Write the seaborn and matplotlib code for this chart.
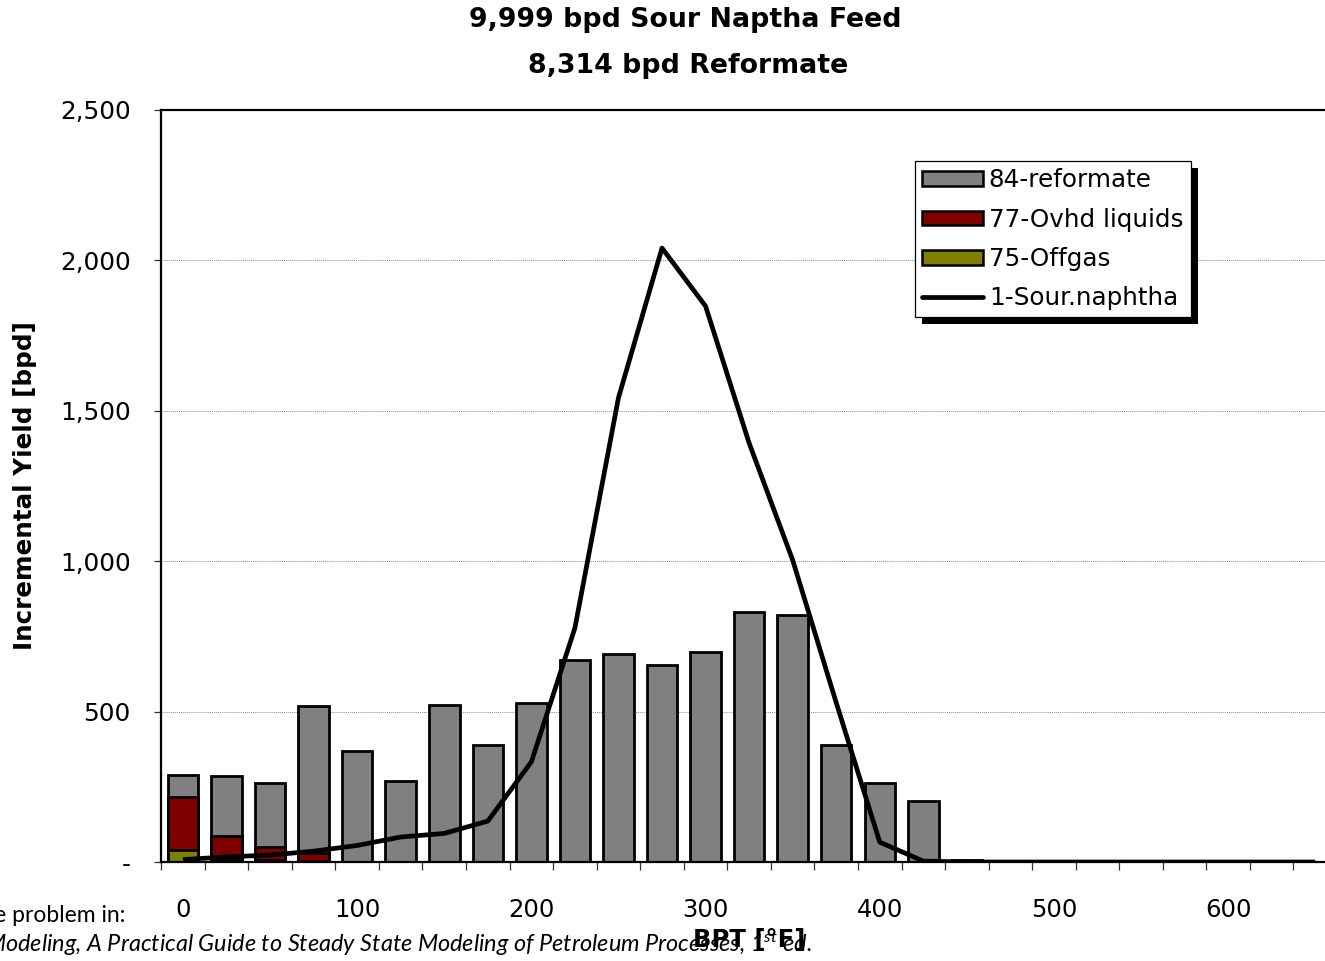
import matplotlib
matplotlib.use("Agg")
import matplotlib.pyplot as plt
import seaborn as sns
import pandas as pd
import numpy as np
from matplotlib.patches import Patch, Rectangle
from matplotlib.lines import Line2D
from matplotlib.ticker import FixedLocator, FuncFormatter
from matplotlib.transforms import IdentityTransform

# ---------------- data ----------------
temps = [0, 25, 50, 75, 100, 125, 150, 175, 200, 225, 250, 275, 300, 325,
         350, 375, 400, 425, 450, 475, 500, 525, 550, 575, 600, 625, 650]
offgas = [40, 8, 5, 2, 0, 0, 0, 0, 0, 0, 0, 0, 0, 0,
          0, 0, 0, 0, 0, 0, 0, 0, 0, 0, 0, 0, 0]
ovhd_liquids = [177, 78, 46, 27, 0, 0, 0, 0, 0, 0, 0, 0, 0, 0,
                0, 0, 0, 0, 0, 0, 0, 0, 0, 0, 0, 0, 0]
reformate = [72, 201, 210, 490, 369, 270, 522, 389, 527, 670, 692, 654, 698, 832,
             820, 389, 264, 202, 8, 0, 0, 0, 0, 0, 0, 0, 0]
sour_naphtha = [8, 17, 23, 36, 55, 83, 95, 136, 333, 778, 1543, 2041, 1848, 1393,
                1004, 530, 66, 3, 0, 0, 0, 0, 0, 0, 0, 0, 0]
series_labels = ["84-reformate", "77-Ovhd liquids", "75-Offgas", "1-Sour.naphtha"]
title_lines = ["9,999 bpd Sour Naptha Feed", "8,314 bpd Reformate"]
y_ticks = [0, 500, 1000, 1500, 2000, 2500]
x_ticks = [0, 100, 200, 300, 400, 500, 600]

df = pd.DataFrame({"T": temps, "offgas": offgas, "ovhd": ovhd_liquids,
                   "ref": reformate, "naph": sour_naphtha})
df["lvl_ovhd"] = df["offgas"] + df["ovhd"]
df["lvl_total"] = df["lvl_ovhd"] + df["ref"]

# ---------------- style ----------------
sns.set_style("white")
plt.rcParams["font.family"] = ["DejaVu Sans"]
for k in ["text.color", "axes.labelcolor", "xtick.color", "ytick.color"]:
    plt.rcParams[k] = "black"

W, H, DPI = 1325, 961, 100
fig = plt.figure(figsize=(W / DPI, H / DPI), dpi=DPI)
ax_left, ax_bottom = 161.2 / W, 1 - 862 / H
ax_w, ax_h = (1337 - 161.2) / W, (862 - 110) / H
ax = fig.add_axes([ax_left, ax_bottom, ax_w, ax_h])

c_gray, c_red, c_olive = "#808080", "#800000", "#808000"
edge = dict(edgecolor="black", linewidth=2.0)

sns.barplot(data=df, x="T", y="lvl_total", native_scale=True, width=0.7,
            color=c_gray, saturation=1, errorbar=None, ax=ax, **edge)
sns.barplot(data=df, x="T", y="lvl_ovhd", native_scale=True, width=0.7,
            color=c_red, saturation=1, errorbar=None, ax=ax, **edge)
sns.barplot(data=df, x="T", y="offgas", native_scale=True, width=0.7,
            color=c_olive, saturation=1, errorbar=None, ax=ax, **edge)
sns.lineplot(data=df, x="T", y="naph", color="black", linewidth=3.4, ax=ax,
             solid_capstyle="butt")

ax.set_xlim(-12.5, 662.5)
ax.set_ylim(0, 2500)
ax.set_axisbelow(True)

# y axis
ax.yaxis.set_major_locator(FixedLocator(y_ticks))
ax.yaxis.set_major_formatter(FuncFormatter(lambda v, p: "-" if v == 0 else f"{int(v):,}"))
ax.tick_params(axis="y", which="major", direction="out", length=5, width=0.9,
               color="#333333", labelcolor="black", pad=17, labelsize=17.8, left=True)
ax.yaxis.grid(True, linestyle=(0, (1, 1)), color="#8c8c8c", linewidth=0.7)
ax.xaxis.grid(False)

# x axis
ax.xaxis.set_major_locator(FixedLocator(x_ticks))
ax.xaxis.set_major_formatter(FuncFormatter(lambda v, p: f"{int(v)}"))
ax.xaxis.set_minor_locator(FixedLocator([t - 12.5 for t in temps] + [662.5]))
ax.tick_params(axis="x", which="major", length=0, pad=26, labelsize=17.5, labelcolor="black")
ax.tick_params(axis="x", which="minor", direction="out", length=6, width=0.9,
               color="#333333", bottom=True)

for s in ax.spines.values():
    s.set_visible(True)
    s.set_color("black")
    s.set_linewidth(1.6)

ax.set_xlabel("BPT [°F]", fontsize=17.5, fontweight="bold", color="black")
ax.xaxis.label.set_va("center")
ax.xaxis.set_label_coords(0.5, -(940 - 862) / 752)
ax.set_ylabel("Incremental Yield [bpd]", fontsize=17.7, fontweight="bold", color="black")
ax.yaxis.label.set_va("center")
ax.yaxis.set_label_coords((25 - 161.2) / 1175.8, 0.5)

# titles
fig.text(685 / W, 1 - 20 / H, title_lines[0], ha="center", va="center",
         fontsize=19.3, fontweight="bold", color="black")
fig.text(688 / W, 1 - 66 / H, title_lines[1], ha="center", va="center",
         fontsize=19.3, fontweight="bold", color="black")

# legend
handles = [Patch(facecolor=c_gray, edgecolor="black", linewidth=1.8),
           Patch(facecolor=c_red, edgecolor="black", linewidth=1.8),
           Patch(facecolor=c_olive, edgecolor="black", linewidth=1.8),
           Line2D([0], [0], color="black", linewidth=3.4)]
leg = ax.legend(handles, series_labels, loc="upper left",
                bbox_to_anchor=(915 / W, 1 - 161 / H), bbox_transform=fig.transFigure,
                borderaxespad=0, fancybox=False, framealpha=1, edgecolor="black",
                fontsize=17.7, handlelength=2.45, handleheight=0.55, handletextpad=0.25,
                labelspacing=0.62, borderpad=0.3)
leg.get_frame().set_linewidth(0.9)
for t in leg.get_texts():
    t.set_color("black")
fig.canvas.draw()
bb = leg.get_window_extent()
shadow = Rectangle((bb.x0 + 7, bb.y0 - 7), bb.width, bb.height, transform=IdentityTransform(),
                   facecolor="black", edgecolor="none", zorder=4.9)
ax.add_artist(shadow)
shadow.set_clip_on(False)

# footnote
fig.text(125 / W, 1 - 915 / H, "Example problem in:", ha="right", va="center",
         family="Lato", fontsize=16.5, color="black")
fig.text(812 / W, 1 - 944 / H,
         r"Refinery Process Modeling, A Practical Guide to Steady State Modeling of Petroleum Processes, 1$^{\mathregular{st}}$ ed.",
         ha="right", va="center", family="Lato", style="italic", fontsize=16.9, color="black")

fig.savefig("out.png", dpi=DPI)
